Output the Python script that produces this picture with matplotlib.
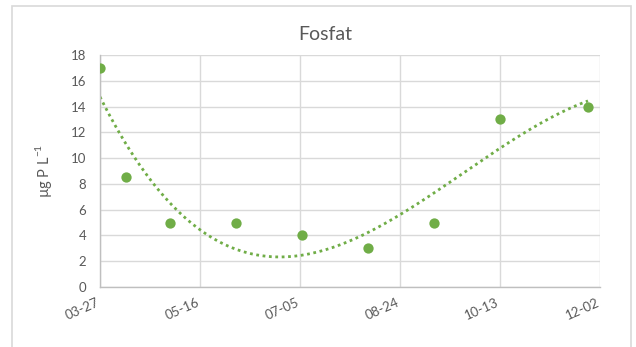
import numpy as np
import pandas as pd
import matplotlib
matplotlib.use("Agg")
import matplotlib.pyplot as plt
import matplotlib.dates as mdates
from matplotlib.patches import Rectangle
from matplotlib.transforms import ScaledTranslation

# Sampling dates and phosphate concentrations
dates = ["2019-03-27", "2019-04-09", "2019-05-01", "2019-06-03", "2019-07-06",
         "2019-08-08", "2019-09-10", "2019-10-13", "2019-11-26"]
fosfat = [17.0, 8.5, 5.0, 5.0, 4.0, 3.0, 5.0, 13.0, 14.0]

tick_dates = ["2019-03-27", "2019-05-16", "2019-07-05", "2019-08-24", "2019-10-13", "2019-12-02"]
y_ticks = list(range(0, 19, 2))

green = "#70AD47"
text_grey = "#595959"
grid_grey = "#D9D9D9"

plt.rcParams["font.family"] = ["Lato", "DejaVu Sans"]

fig = plt.figure(figsize=(6.36, 3.47), dpi=100)
fig.patch.set_facecolor("white")

# chart frame
fig.patches.append(Rectangle((12 / 636, -0.05), (631 - 12) / 636, 1 - 6 / 347 + 0.05,
                             transform=fig.transFigure, fill=False,
                             edgecolor="#D9D9D9", linewidth=1.2))

ax = fig.add_axes([100 / 636, 1 - 287 / 347, 500 / 636, 232 / 347])

x = pd.to_datetime(dates)
xn = mdates.date2num(x)
ax.scatter(x, fosfat, s=55, color=green, zorder=3, linewidths=0)

# third-order polynomial trendline
coef = np.polyfit(xn - xn[0], fosfat, 3)
xs = np.linspace(0, xn[-1] - xn[0], 200)
ax.plot(mdates.num2date(xs + xn[0]), np.polyval(coef, xs), linestyle=(0, (1, 1.3)),
        color=green, linewidth=2, zorder=2)

tx = pd.to_datetime(tick_dates)
ax.set_xlim(tx[0], tx[-1])
ax.set_ylim(0, 18)
ax.set_xticks(tx)
ax.xaxis.set_major_formatter(mdates.DateFormatter("%m-%d"))
ax.set_yticks(y_ticks)

ax.grid(True, color=grid_grey, linewidth=1)
ax.set_axisbelow(True)
for side in ["top", "right"]:
    ax.spines[side].set_visible(False)
for side in ["left", "bottom"]:
    ax.spines[side].set_color("#BFBFBF")
    ax.spines[side].set_linewidth(1)
ax.tick_params(length=0, colors=text_grey, labelsize=9.5)
ax.tick_params(axis="y", pad=10)
ax.tick_params(axis="x", pad=7)
shift = ScaledTranslation(-4 / 100, 0, fig.dpi_scale_trans)
for lbl in ax.get_xticklabels():
    lbl.set_rotation(24)
    lbl.set_ha("right")
    lbl.set_rotation_mode("anchor")
    lbl.set_transform(lbl.get_transform() + shift)

ax.set_ylabel("µg P L$^{\\mathregular{-1}}$", color=text_grey, fontsize=10.5, labelpad=12)
fig.text(325 / 636, 1 - 34 / 347, "Fosfat", ha="center", va="center",
         color=text_grey, fontsize=14)

fig.savefig("out.png", dpi=100, facecolor="white")
